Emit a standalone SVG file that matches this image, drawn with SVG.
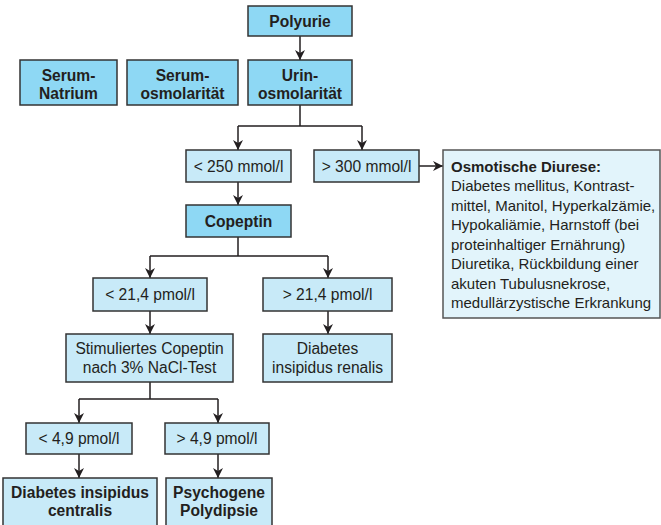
<svg xmlns="http://www.w3.org/2000/svg" width="661" height="525" viewBox="0 0 661 525">
<defs>
<style>
.dark{fill:#8ed8f4;stroke:#333;stroke-width:1.5}
.light{fill:#c8eaf8;stroke:#333;stroke-width:1.5}
.pale{fill:#e2f4fb;stroke:#555;stroke-width:1.5}
text{font-family:"Liberation Sans",Arial,sans-serif;font-size:15.6px;fill:#231f20}
.b{font-weight:bold}
.c{text-anchor:middle}
.o{font-size:15px}
.conn{fill:none;stroke:#231f20;stroke-width:1.5}
</style>
<marker id="ah" viewBox="0 0 10 10" refX="10" refY="5" markerWidth="10" markerHeight="10" markerUnits="userSpaceOnUse" orient="auto">
<path d="M0,0 L10,5 L0,10 L3,5 Z" fill="#231f20"/>
</marker>
</defs>
<rect width="661" height="525" fill="#fff"/>
<g id="connectors">
<path class="conn" d="M300,36 V60" marker-end="url(#ah)"/>
<path class="conn" d="M300,105 V126 M238,126 H362"/>
<path class="conn" d="M238,126 V150" marker-end="url(#ah)"/>
<path class="conn" d="M362,126 V150" marker-end="url(#ah)"/>
<path class="conn" d="M238,182 V205" marker-end="url(#ah)"/>
<path class="conn" d="M419,166 H443" marker-end="url(#ah)"/>
<path class="conn" d="M238,237 V256 M150,256 H328"/>
<path class="conn" d="M150,256 V278" marker-end="url(#ah)"/>
<path class="conn" d="M328,256 V278" marker-end="url(#ah)"/>
<path class="conn" d="M150,311 V334" marker-end="url(#ah)"/>
<path class="conn" d="M328,311 V334" marker-end="url(#ah)"/>
<path class="conn" d="M150,382 V399 M79,399 H218"/>
<path class="conn" d="M79,399 V423" marker-end="url(#ah)"/>
<path class="conn" d="M218,399 V423" marker-end="url(#ah)"/>
<path class="conn" d="M79,454 V478" marker-end="url(#ah)"/>
<path class="conn" d="M218,454 V478" marker-end="url(#ah)"/>
</g>
<g id="polyurie"><rect class="dark" x="248" y="6" width="104" height="30"/><text class="b c" x="300" y="27">Polyurie</text></g>
<g id="serum-natrium"><rect class="dark" x="20" y="60" width="97" height="45"/><text class="b c" x="68.5" y="80.5">Serum-</text><text class="b c" x="68.5" y="99">Natrium</text></g>
<g id="serum-osmo"><rect class="dark" x="127" y="60" width="111" height="45"/><text class="b c" x="182.5" y="80.5">Serum-</text><text class="b c" x="182.5" y="99">osmolarität</text></g>
<g id="urin-osmo"><rect class="dark" x="248" y="60" width="104" height="45"/><text class="b c" x="300" y="80.5">Urin-</text><text class="b c" x="300" y="99">osmolarität</text></g>
<g id="lt250"><rect class="light" x="186" y="150" width="105" height="32"/><text class="c" x="238.5" y="171.5">&lt; 250 mmol/l</text></g>
<g id="gt300"><rect class="light" x="314" y="150" width="105" height="32"/><text class="c" x="366.5" y="171.5">&gt; 300 mmol/l</text></g>
<g id="osmotische"><rect class="pale" x="443" y="150" width="217" height="168"/>
<text x="451" y="171.5" class="b o">Osmotische Diurese:</text>
<text x="451" y="191" class="o">Diabetes mellitus, Kontrast-</text>
<text x="451" y="210.5" class="o">mittel, Manitol, Hyperkalzämie,</text>
<text x="451" y="230" class="o">Hypokaliämie, Harnstoff (bei</text>
<text x="451" y="249.5" class="o">proteinhaltiger Ernährung)</text>
<text x="451" y="269" class="o">Diuretika, Rückbildung einer</text>
<text x="451" y="288.5" class="o">akuten Tubulusnekrose,</text>
<text x="451" y="308" class="o">medullärzystische Erkrankung</text>
</g>
<g id="copeptin"><rect class="dark" x="186" y="205" width="105" height="32"/><text class="b c" x="238.5" y="226.5">Copeptin</text></g>
<g id="lt214"><rect class="light" x="93" y="278" width="114" height="33"/><text class="c" x="150" y="300">&lt; 21,4 pmol/l</text></g>
<g id="gt214"><rect class="light" x="263" y="278" width="129" height="33"/><text class="c" x="327.5" y="300">&gt; 21,4 pmol/l</text></g>
<g id="stimuliert"><rect class="light" x="66" y="334" width="167" height="48"/><text class="c" x="149.5" y="353.5">Stimuliertes Copeptin</text><text class="c" x="149.5" y="372.5">nach 3% NaCl-Test</text></g>
<g id="renalis"><rect class="light" x="263" y="334" width="129" height="48"/><text class="c" x="327.5" y="353.5">Diabetes</text><text class="c" x="327.5" y="372.5">insipidus renalis</text></g>
<g id="lt49"><rect class="light" x="26" y="423" width="106" height="31"/><text class="c" x="79" y="444">&lt; 4,9 pmol/l</text></g>
<g id="gt49"><rect class="light" x="165" y="423" width="104" height="31"/><text class="c" x="217" y="444">&gt; 4,9 pmol/l</text></g>
<g id="centralis"><rect class="light" x="3" y="478" width="154" height="50"/><text class="b c" x="80" y="497.5">Diabetes insipidus</text><text class="b c" x="80" y="516">centralis</text></g>
<g id="psychogene"><rect class="light" x="166" y="478" width="106" height="50"/><text class="b c" x="219" y="497.5">Psychogene</text><text class="b c" x="219" y="516">Polydipsie</text></g>
</svg>
